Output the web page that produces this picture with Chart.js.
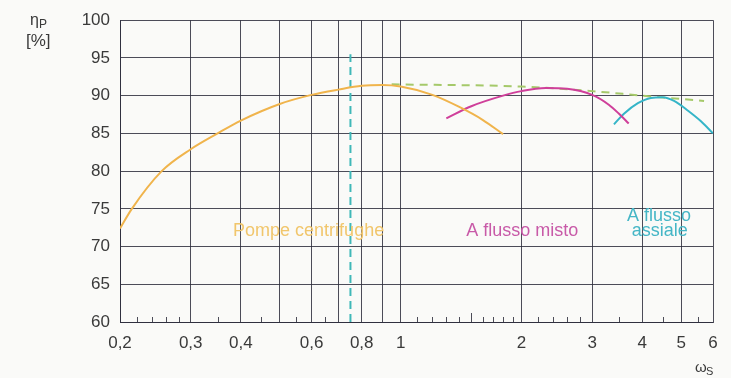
<!DOCTYPE html>
<html>
<head>
<meta charset="utf-8">
<script src="https://cdn.jsdelivr.net/npm/chart.js@4"></script>
<style>
  html, body { margin: 0; padding: 0; background: #fafaf8; }
  #wrap { width: 731px; height: 378px; }
</style>
</head>
<body>
<div id="wrap"><canvas id="chart"></canvas></div>
<script>
// omega_s grid and labels
const xGrid = [0.2, 0.3, 0.4, 0.5, 0.6, 0.7, 0.8, 0.9, 1, 2, 3, 4, 5, 6];
const xLabeled = [0.2, 0.3, 0.4, 0.6, 0.8, 1, 2, 3, 4, 5, 6];
const xMinor = [0.22, 0.24, 0.26, 0.28, 0.35, 0.45, 0.55, 0.65,
  1.1, 1.2, 1.3, 1.4, 1.5, 1.6, 1.7, 1.8, 1.9, 2.2, 2.4, 2.6, 2.8, 3.5, 4.5, 5.5];

// Pompe centrifughe
const centrifX = [0.2, 0.214, 0.254, 0.3, 0.35, 0.4, 0.5, 0.6, 0.7, 0.8, 0.9, 1.0, 1.2, 1.4, 1.6, 1.8];
const centrifY = [72.4, 75.0, 80.0, 82.9, 85.0, 86.7, 88.9, 90.1, 90.8, 91.3, 91.4, 91.2, 90.1, 88.5, 86.8, 84.9];

// A flusso misto
const mistoX = [1.3, 1.5, 1.8, 2.0, 2.3, 2.6, 3.0, 3.3, 3.5, 3.7];
const mistoY = [87.0, 88.6, 90.0, 90.6, 91.0, 90.9, 90.1, 88.8, 87.6, 86.3];

// A flusso assiale
const assialeX = [3.4, 3.6, 3.9, 4.2, 4.5, 4.8, 5.2, 5.6, 6.0];
const assialeY = [86.2, 87.6, 89.0, 89.7, 89.8, 89.3, 88.0, 86.6, 85.0];

// envelope (dashed)
const envX = [0.95, 2.0, 3.0, 4.0, 5.7];
const envY = [91.5, 91.2, 90.6, 90.0, 89.3];

// vertical dashed marker
const markX = [0.75, 0.75];
const markY = [60, 95.5];

const pts = (xs, ys) => xs.map((x, i) => ({ x: x, y: ys[i] }));

const FONT = '"Liberation Sans", Arial, sans-serif';
const GRID = 'rgba(45,45,60,0.85)';

const extras = {
  id: 'extras',
  afterDraw(chart) {
    const ctx = chart.ctx;
    const xs = chart.scales.x, ys = chart.scales.y;
    const bottom = chart.chartArea.bottom;

    // minor ticks on the bottom axis
    ctx.save();
    ctx.strokeStyle = GRID;
    ctx.lineWidth = 1;
    xMinor.forEach(v => {
      const px = Math.round(xs.getPixelForValue(v)) + 0.5;
      const len = v === 1.5 ? 9 : 5;
      ctx.beginPath();
      ctx.moveTo(px, bottom);
      ctx.lineTo(px, bottom - len);
      ctx.stroke();
    });
    ctx.restore();

    // curve labels
    const texts = [
      { t: 'Pompe centrifughe', x: 0.59, y: 72.0, c: '#f1c66c' },
      { t: 'A flusso misto', x: 2.01, y: 72.0, c: '#c85aa8' },
      { t: 'A flusso', x: 4.40, y: 74.1, c: '#45b6c6' },
      { t: 'assiale', x: 4.42, y: 72.1, c: '#45b6c6' }
    ];
    ctx.save();
    ctx.font = '18px ' + FONT;
    ctx.textAlign = 'center';
    ctx.textBaseline = 'middle';
    texts.forEach(o => {
      ctx.fillStyle = o.c;
      ctx.fillText(o.t, xs.getPixelForValue(o.x), ys.getPixelForValue(o.y));
    });
    ctx.restore();

    // axis titles
    ctx.save();
    ctx.fillStyle = '#3a3a3a';
    ctx.textBaseline = 'alphabetic';
    ctx.textAlign = 'left';
    ctx.font = '16px ' + FONT;
    ctx.fillText('\u03b7', 30, 25);
    ctx.font = '12px ' + FONT;
    ctx.fillText('P', 39, 28);
    ctx.font = '17px ' + FONT;
    ctx.fillText('[%]', 26, 46);
    ctx.font = '15px ' + FONT;
    ctx.fillText('\u03c9', 695, 372);
    ctx.font = '11px ' + FONT;
    ctx.fillText('S', 706, 375);
    ctx.restore();
  }
};

new Chart(document.getElementById('chart'), {
  type: 'line',
  data: {
    datasets: [
      { data: pts(centrifX, centrifY), borderColor: '#f0b44c', borderWidth: 2, cubicInterpolationMode: 'monotone' },
      { data: pts(mistoX, mistoY), borderColor: '#cf3f9a', borderWidth: 2, cubicInterpolationMode: 'monotone' },
      { data: pts(assialeX, assialeY), borderColor: '#35b5c8', borderWidth: 2, cubicInterpolationMode: 'monotone' },
      { data: pts(envX, envY), borderColor: '#a5c96a', borderWidth: 2, borderDash: [8, 6], cubicInterpolationMode: 'monotone' },
      { data: pts(markX, markY), borderColor: '#3fb8b8', borderWidth: 2, borderDash: [8, 5] }
    ]
  },
  options: {
    responsive: true,
    maintainAspectRatio: false,
    animation: false,
    events: [],
    elements: { point: { radius: 0 }, line: { fill: false } },
    layout: { padding: { top: 18, right: 18, left: 0, bottom: 0 } },
    plugins: { legend: { display: false }, tooltip: { enabled: false } },
    scales: {
      x: {
        type: 'logarithmic',
        min: 0.2,
        max: 6,
        afterBuildTicks: s => { s.ticks = xGrid.map(v => ({ value: v })); },
        afterFit: s => { s.height = 56; },
        grid: { color: GRID, lineWidth: 1, drawTicks: false },
        border: { color: GRID },
        ticks: {
          autoSkip: false,
          maxRotation: 0,
          padding: 11,
          color: '#3a3a3a',
          font: { family: FONT, size: 17 },
          callback: v => xLabeled.includes(v) ? String(v).replace('.', ',') : ''
        }
      },
      y: {
        min: 60,
        max: 100,
        afterFit: s => { s.width = 120; },
        grid: { color: GRID, lineWidth: 1, drawTicks: false },
        border: { color: GRID },
        ticks: {
          stepSize: 5,
          padding: 10,
          color: '#3a3a3a',
          font: { family: FONT, size: 17 }
        }
      }
    }
  },
  plugins: [extras]
});
</script>
</body>
</html>
